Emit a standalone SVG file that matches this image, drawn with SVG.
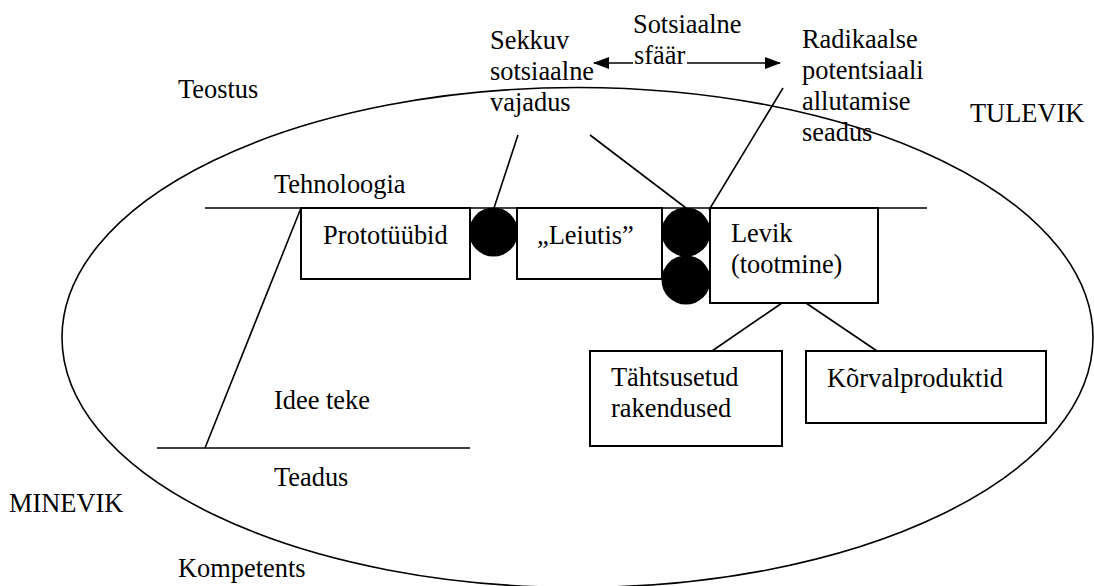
<svg xmlns="http://www.w3.org/2000/svg" width="1094" height="586" viewBox="0 0 1094 586">
<style>
.ln{stroke:#000;stroke-width:1.6;fill:none}
.bx{stroke:#000;stroke-width:2;fill:#fff}
.dot{fill:#000}
</style>
<defs>
<marker id="ah" viewBox="0 0 16 12" refX="15" refY="6" markerWidth="16" markerHeight="12" markerUnits="userSpaceOnUse" orient="auto-start-reverse">
<path d="M0,0 L16,6 L0,12 Z" fill="#000"/>
</marker>
</defs>
<rect width="1094" height="586" fill="#fff"/>
<ellipse id="sphere" cx="577.5" cy="337.5" rx="515.5" ry="250" class="ln"/>
<g id="levels">
<line x1="205" y1="208" x2="927" y2="208" class="ln" stroke-width="2"/>
<line x1="157" y1="448" x2="470" y2="448" class="ln" stroke-width="2"/>
</g>
<g id="connectors">
<line x1="301" y1="208" x2="205" y2="448" class="ln"/>
<path d="M594,63 H633 M687,63 H780" class="ln" stroke-width="2" marker-start="url(#ah)" marker-end="url(#ah)"/>
<line x1="518" y1="135" x2="494" y2="208" class="ln"/>
<line x1="590" y1="135" x2="686" y2="208" class="ln"/>
<line x1="783" y1="88" x2="709" y2="210" class="ln"/>
<line x1="782" y1="303" x2="712" y2="351" class="ln"/>
<line x1="806" y1="303" x2="877" y2="351" class="ln"/>
</g>
<g id="dots">
<circle cx="493.5" cy="232" r="24.5" class="dot"/>
<circle cx="686" cy="232" r="24.5" class="dot"/>
<circle cx="686" cy="280" r="24.5" class="dot"/>
</g>
<g font-family="Liberation Serif" font-size="26.4" fill="#000">
<g id="labels">
<text x="178" y="98">Teostus</text>
<text x="970" y="122">TULEVIK</text>
<text x="9" y="512">MINEVIK</text>
<text x="178" y="577">Kompetents</text>
<text x="274" y="193">Tehnoloogia</text>
<text x="274" y="409">Idee teke</text>
<text x="274" y="486">Teadus</text>
</g>
<g id="node-sekkuv">
<text x="490" y="49">Sekkuv</text>
<text x="490" y="80">sotsiaalne</text>
<text x="490" y="111">vajadus</text>
</g>
<g id="node-sfaar">
<text x="633" y="33">Sotsiaalne</text>
<text x="634" y="64">sfäär</text>
</g>
<g id="node-radikaalse">
<text x="802" y="48">Radikaalse</text>
<text x="802" y="79">potentsiaali</text>
<text x="802" y="110">allutamise</text>
<text x="802" y="141">seadus</text>
</g>
<g id="node-prototuubid">
<rect x="301" y="208" width="169" height="71" class="bx"/>
<text x="323" y="244">Prototüübid</text>
</g>
<g id="node-leiutis">
<rect x="517" y="208" width="145" height="71" class="bx"/>
<text x="537" y="244">„Leiutis”</text>
</g>
<g id="node-levik">
<rect x="710" y="208" width="168" height="95" class="bx"/>
<text x="731" y="242">Levik</text>
<text x="731" y="273">(tootmine)</text>
</g>
<g id="node-tahtsusetud">
<rect x="590" y="351" width="192" height="95" class="bx"/>
<text x="611" y="386">Tähtsusetud</text>
<text x="611" y="417">rakendused</text>
</g>
<g id="node-korvalproduktid">
<rect x="806" y="351" width="240" height="72" class="bx"/>
<text x="827" y="387">Kõrvalproduktid</text>
</g>
</g>
</svg>
